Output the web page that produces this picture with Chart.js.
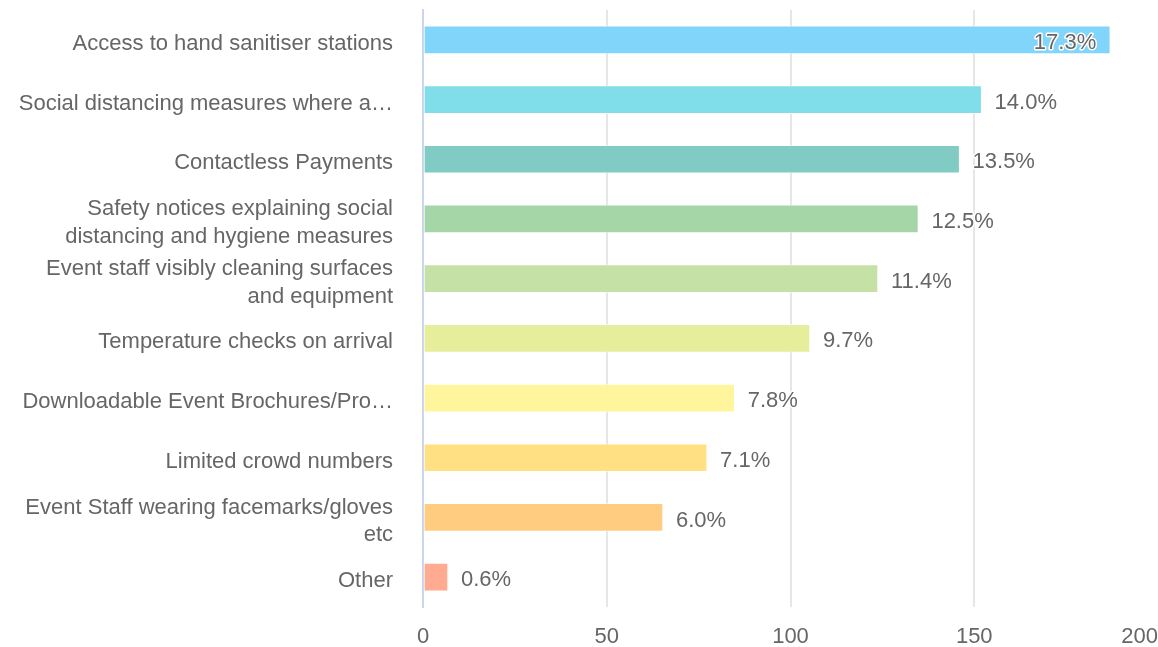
<!DOCTYPE html>
<html>
<head>
<meta charset="utf-8">
<script src="https://cdn.jsdelivr.net/npm/chart.js@4"></script>
<style>
html,body{margin:0;padding:0;background:#fff;}
#c{display:block;}
</style>
</head>
<body>
<canvas id="c" width="1158" height="647"></canvas>
<script>
const categories = [
  "Access to hand sanitiser stations",
  "Social distancing measures where a\u2026",
  "Contactless Payments",
  ["Safety notices explaining social", "distancing and hygiene measures"],
  ["Event staff visibly cleaning surfaces", "and equipment"],
  "Temperature checks on arrival",
  "Downloadable Event Brochures/Pro\u2026",
  "Limited crowd numbers",
  ["Event Staff wearing facemarks/gloves", "etc"],
  "Other"
];
const values = [187, 152, 146, 134.8, 123.8, 105.3, 84.8, 77.3, 65.3, 6.8];
const pctLabels = ["17.3%", "14.0%", "13.5%", "12.5%", "11.4%", "9.7%", "7.8%", "7.1%", "6.0%", "0.6%"];
const barColors = ["#81D4FA", "#80DEEA", "#80CBC4", "#A5D6A7", "#C5E1A5", "#E6EE9C", "#FFF59D", "#FFE082", "#FFCC80", "#FFAB91"];
const xTicks = [0, 50, 100, 150, 200];

const FONT = "'Liberation Sans', Arial, sans-serif";

const labelPlugin = {
  id: 'pctLabels',
  beforeDraw(chart) {
    const xi = chart.scales.x.getLabelItems();
    if (xi && xi.length) xi[0].options.textAlign = 'center';
    const yi = chart.scales.y.getLabelItems();
    if (yi && !yi._shifted) {
      yi.forEach(it => { it.options.translation[1] += 4; });
      yi._shifted = true;
    }
  },
  afterDatasetsDraw(chart) {
    const ctx = chart.ctx;
    const meta = chart.getDatasetMeta(0);
    const area = chart.chartArea;
    ctx.save();
    ctx.font = "22px " + FONT;
    ctx.textBaseline = 'middle';
    ctx.lineJoin = 'round';
    meta.data.forEach((el, i) => {
      const t = pctLabels[i];
      const w = ctx.measureText(t).width;
      let x, align;
      if (el.x + 13 + w > area.right) { x = el.x - 14; align = 'right'; }
      else { x = el.x + 13; align = 'left'; }
      ctx.textAlign = align;
      ctx.strokeStyle = '#ffffff';
      ctx.lineWidth = 3;
      ctx.strokeText(t, x, el.y + 3);
      ctx.fillStyle = '#666666';
      ctx.fillText(t, x, el.y + 3);
    });
    ctx.restore();
  }
};

new Chart(document.getElementById('c'), {
  type: 'bar',
  data: {
    labels: categories,
    datasets: [{
      data: values,
      backgroundColor: barColors,
      borderColor: 'rgba(255,255,255,0.5)',
      borderWidth: 1,
      borderSkipped: false,
      barThickness: 28
    }]
  },
  options: {
    indexAxis: 'y',
    responsive: false,
    animation: false,
    devicePixelRatio: 1,
    layout: { padding: { top: 10, right: 0, bottom: 0, left: 0 } },
    plugins: {
      legend: { display: false },
      tooltip: { enabled: false }
    },
    scales: {
      x: {
        min: 0,
        max: 200,
        afterBuildTicks(scale) { scale.ticks = xTicks.map(v => ({ value: v })); },
        afterFit(scale) { scale.height = 40; scale.paddingLeft = 0; scale.paddingRight = 0; },
        grid: {
          color: (c) => (c.tick && c.tick.value === 200) ? 'rgba(0,0,0,0)' : '#e6e6e6',
          lineWidth: 2,
          drawTicks: false
        },
        border: { display: false },
        ticks: {
          align: 'inner',
          padding: 17,
          color: '#666666',
          font: { family: FONT, size: 22 },
          maxRotation: 0
        }
      },
      y: {
        afterFit(scale) { scale.width = 423; scale.paddingTop = 0; scale.paddingBottom = 0; },
        grid: { display: false, drawTicks: false },
        border: { display: true, color: '#ccd6eb', width: 2 },
        ticks: {
          padding: 30,
          color: '#666666',
          font: { family: FONT, size: 22, lineHeight: 1.27 },
          autoSkip: false
        }
      }
    }
  },
  plugins: [labelPlugin]
});
</script>
</body>
</html>
